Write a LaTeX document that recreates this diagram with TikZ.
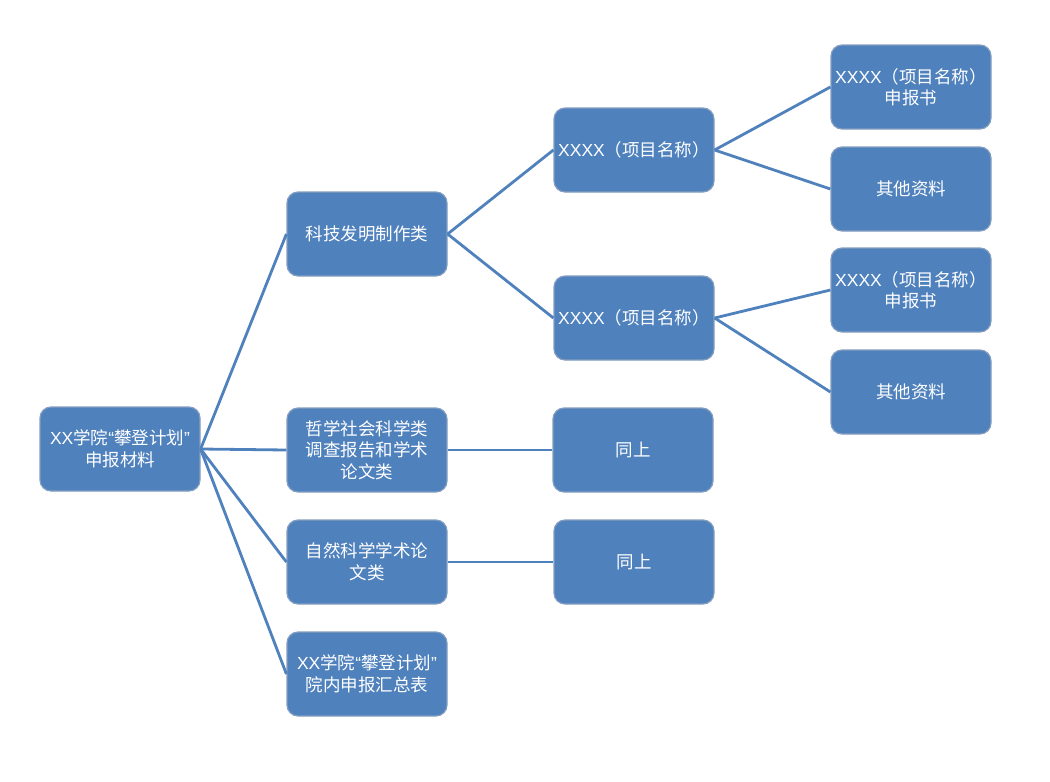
\documentclass[tikz,border=0pt]{standalone}
\usepackage{fontspec}
\setmainfont{Noto Sans CJK SC}
\newfontfamily\latin{Liberation Sans}
\usepackage{tikz}
\usetikzlibrary{positioning}
\definecolor{boxblue}{RGB}{79,129,189}
\definecolor{boxedge}{RGB}{132,158,192}
\definecolor{linkblue}{RGB}{79,129,189}
\newcommand{\openq}{{\latin “}}
\newcommand{\closeq}{{\latin ”}}
\tikzset{
  item/.style={draw=boxedge,line width=1.2pt,fill=boxblue,rounded corners=11pt,
    minimum width=160pt,minimum height=84pt,inner sep=1pt,align=center,
    text=white,font=\fontsize{17.5pt}{21.5pt}\selectfont},
  link/.style={linkblue,line width=2.8pt}
}

\begin{document}
\begin{tikzpicture}[x=1pt,y=-1pt]
  \useasboundingbox (0,0) rectangle (1050,782);
  % root
  \node[item] (root) at (120,449) {{\latin XX}学院\openq 攀登计划\closeq\\申报材料};
  % categories
  \node[item] (tech) at (367,234) {科技发明制作类};
  \node[item] (social) at (367,450) {哲学社会科学类\\调查报告和学术\\论文类};
  \node[item] (nature) at (367,562) {自然科学学术论\\文类};
  \node[item] (sum) at (367,674) {{\latin XX}学院\openq 攀登计划\closeq\\院内申报汇总表};
  % projects
  \node[item] (projA) at (634,150) {{\latin XXXX}（项目名称）};
  \node[item] (projB) at (634,318) {{\latin XXXX}（项目名称）};
  \node[item] (sameA) at (633,450) {同上};
  \node[item] (sameB) at (634,562) {同上};
  % documents
  \node[item] (formA) at (911,87) {{\latin XXXX}（项目名称）\\申报书};
  \node[item] (restA) at (911,189) {其他资料};
  \node[item] (formB) at (911,290) {{\latin XXXX}（项目名称）\\申报书};
  \node[item] (restB) at (911,392) {其他资料};

  \foreach \child in {tech,social,nature,sum}
    \draw[link] (root.east) -- (\child.west);
  \draw[link] (tech.east) -- (projA.west);
  \draw[link] (tech.east) -- (projB.west);
  \draw[link] (social.east) -- (sameA.west);
  \draw[link] (nature.east) -- (sameB.west);
  \draw[link] (projA.east) -- (formA.west);
  \draw[link] (projA.east) -- (restA.west);
  \draw[link] (projB.east) -- (formB.west);
  \draw[link] (projB.east) -- (restB.west);
\end{tikzpicture}
\end{document}
